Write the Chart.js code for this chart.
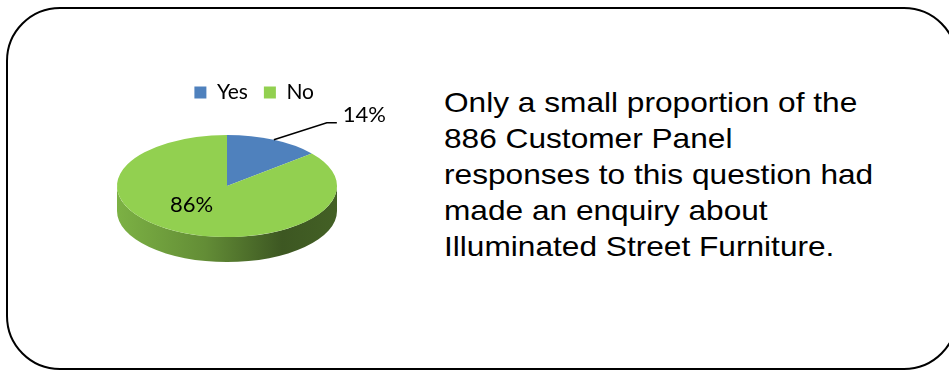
<!DOCTYPE html>
<html>
<head>
<meta charset="utf-8">
<script src="https://cdn.jsdelivr.net/npm/chart.js@4.4.0/dist/chart.umd.min.js"></script>
<style>
  html, body { margin: 0; padding: 0; background: #fff; }
  body { width: 949px; height: 370px; position: relative; overflow: hidden; }
  .frame {
    position: absolute; left: 6px; top: 7px; width: 952px; height: 363px;
    box-sizing: border-box; border: 2px solid #000; border-radius: 54px;
  }
  #pieWrap { position: absolute; left: 0; top: 0; width: 420px; height: 300px; }
  .note {
    position: absolute; left: 444px; top: 85px; width: 420px;
    font-family: "Liberation Sans", Arial, sans-serif; font-size: 28px; line-height: 36px;
    color: #000; transform: scaleX(1.13); transform-origin: left top; white-space: nowrap;
  }
</style>
</head>
<body>
<div class="frame"></div>
<div id="pieWrap"><canvas id="enquiryPie" width="420" height="300"></canvas></div>
<div class="note">Only a small proportion of the<br>886 Customer Panel<br>responses to this question had<br>made an enquiry about<br>Illuminated Street Furniture.</div>
<script>
const categories = ["Yes", "No"];
const shares = [14, 86];           // percent of responses
const sliceColors = ["#4f81bd", "#92d050"];

// darken a hex colour by factor f (0..1)
function shade(hex, f) {
  const n = parseInt(hex.slice(1), 16);
  const r = Math.round(((n >> 16) & 255) * f);
  const g = Math.round(((n >> 8) & 255) * f);
  const b = Math.round((n & 255) * f);
  return `rgb(${r},${g},${b})`;
}

// squashes the pie into an ellipse and draws the rim underneath it
const tiltPlugin = {
  id: "tilt3d",
  beforeDatasetsDraw(chart, args, opts) {
    const ctx = chart.ctx;
    const meta = chart.getDatasetMeta(0);
    const p0 = meta.data[0].getProps(["x", "y", "outerRadius"], true);
    const cx = p0.x, cy = p0.y, r = p0.outerRadius, ry = r * opts.tilt;

    meta.data.forEach((arc, i) => {
      const { startAngle, endAngle } = arc.getProps(["startAngle", "endAngle"], true);
      const base = chart.data.datasets[0].backgroundColor[i];
      const grad = ctx.createLinearGradient(cx - r, 0, cx + r, 0);
      opts.rimShade.forEach(([pos, f]) => grad.addColorStop(pos, shade(base, f)));
      // only the front half of the rim (0..PI) is visible
      [0, 2 * Math.PI, -2 * Math.PI].forEach(shift => {
        const a = Math.max(startAngle, shift);
        const b = Math.min(endAngle, shift + Math.PI);
        if (b <= a) return;
        ctx.beginPath();
        ctx.ellipse(cx, cy, r, ry, 0, a, b);
        ctx.ellipse(cx, cy + opts.depth, r, ry, 0, b, a, true);
        ctx.closePath();
        ctx.fillStyle = grad;
        ctx.fill();
      });
    });

    ctx.save();
    ctx.translate(0, cy);
    ctx.scale(1, opts.tilt);
    ctx.translate(0, -cy);
  },
  afterDatasetsDraw(chart, args, opts) {
    const ctx = chart.ctx;
    ctx.restore();

    const meta = chart.getDatasetMeta(0);
    const values = chart.data.datasets[0].data;
    const total = values.reduce((s, v) => s + v, 0);
    ctx.save();
    ctx.font = opts.font;
    ctx.fillStyle = "#000";
    ctx.strokeStyle = "#000";
    meta.data.forEach((arc, i) => {
      const p = arc.getProps(["x", "y", "startAngle", "endAngle", "outerRadius"], true);
      const mid = (p.startAngle + p.endAngle) / 2;
      const text = Math.round(values[i] / total * 100) + "%";
      const cos = Math.cos(mid), sin = Math.sin(mid);
      if (values[i] / total < 0.2) {
        // small slice: label outside with a leader line
        const sx = p.x + p.outerRadius * cos;
        const sy = p.y + p.outerRadius * opts.tilt * sin;
        const ex = sx + opts.leader.dx, ey = sy + opts.leader.dy;
        ctx.lineWidth = 1.5;
        ctx.beginPath();
        ctx.moveTo(sx, sy);
        ctx.lineTo(ex, ey);
        ctx.lineTo(ex + opts.leader.tail, ey);
        ctx.stroke();
        ctx.textAlign = "left";
        ctx.textBaseline = "middle";
        ctx.fillText(text, ex + opts.leader.tail + 6, ey - 8);
      } else {
        const lx = p.x + p.outerRadius * 0.5 * cos + opts.inside.dx;
        const ly = p.y + p.outerRadius * 0.5 * opts.tilt * sin + opts.inside.dy;
        ctx.textAlign = "center";
        ctx.textBaseline = "middle";
        ctx.fillText(text, lx, ly);
      }
    });
    ctx.restore();
  }
};

new Chart(document.getElementById("enquiryPie"), {
  type: "pie",
  data: {
    labels: categories,
    datasets: [{
      data: shares,
      backgroundColor: sliceColors,
      borderWidth: 0,
      radius: 110,
      clip: false
    }]
  },
  options: {
    responsive: false,
    animation: false,
    events: [],
    layout: { padding: { left: 124, right: 90, top: 66, bottom: 41 } },
    plugins: {
      legend: {
        position: "top",
        align: "end",
        labels: {
          boxWidth: 12,
          boxHeight: 12,
          padding: 16,
          color: "#000",
          font: { family: "Lato", size: 21 }
        }
      },
      tooltip: { enabled: false },
      tilt3d: {
        tilt: 0.464,
        depth: 25,
        rimShade: [[0, 0.85], [0.4, 0.68], [0.75, 0.42], [1, 0.46]],
        font: "22px Lato",
        leader: { dx: 53, dy: -17, tail: 10 },
        inside: { dx: -12, dy: -4 }
      }
    }
  },
  plugins: [tiltPlugin]
});
</script>
</body>
</html>
